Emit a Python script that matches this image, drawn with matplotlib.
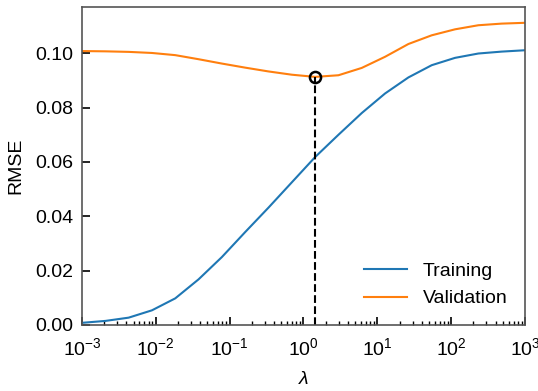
import numpy as np
import matplotlib.pyplot as plt

plt.rcParams['font.family'] = ['Liberation Sans', 'DejaVu Sans']
plt.rcParams['mathtext.fontset'] = 'custom'
plt.rcParams['mathtext.rm'] = 'Liberation Sans'
plt.rcParams['mathtext.it'] = 'Liberation Sans:italic'
plt.rcParams['mathtext.default'] = 'regular'

# regularisation strengths (20 log-spaced values)
lambdas = np.logspace(-3, 3, 20)

train_rmse = [0.0008, 0.0015, 0.0027, 0.0054, 0.0098, 0.0168, 0.0250, 0.0342,
              0.0432, 0.0525, 0.0618, 0.0700, 0.0780, 0.0852, 0.0911, 0.0956,
              0.0983, 0.0999, 0.1006, 0.1011]
val_rmse = [0.1008, 0.1007, 0.1005, 0.1001, 0.0993, 0.0978, 0.0962, 0.0947,
            0.0933, 0.0921, 0.0913, 0.0919, 0.0946, 0.0987, 0.1034, 0.1066,
            0.1088, 0.1103, 0.1109, 0.1112]

best = int(np.argmin(val_rmse))

fig = plt.figure(figsize=(5.38, 3.91), dpi=100)
ax = fig.add_axes([0.1524, 0.1688, 0.8234, 0.8132])

ax.plot(lambdas, train_rmse, color='#1f77b4', lw=1.5, label='Training')
ax.plot(lambdas, val_rmse, color='#ff7f0e', lw=1.5, label='Validation')
ax.plot([lambdas[best], lambdas[best]], [0, val_rmse[best]], 'k--', lw=1.5)
ax.plot(lambdas[best], val_rmse[best], 'o', mfc='none', mec='k', mew=1.8, ms=8)

ax.set_xscale('log')
ax.set_xlim(1e-3, 1e3)
ax.set_ylim(0, 0.117)
ax.set_yticks([0, 0.02, 0.04, 0.06, 0.08, 0.10])
ax.set_yticklabels(['0.00', '0.02', '0.04', '0.06', '0.08', '0.10'])

ax.tick_params(which='both', direction='in', labelsize=14, colors='black')
ax.tick_params(which='major', length=6, width=1.2)
ax.tick_params(axis='y', which='major', pad=6)
ax.tick_params(axis='x', which='major', pad=9)
ax.tick_params(which='minor', length=3, width=1)
for s in ax.spines.values():
    s.set_color('#555555')
    s.set_linewidth(1.2)

ax.set_xlabel(r'$\mathit{\lambda}$', fontsize=14, labelpad=8)
ax.set_ylabel('RMSE', fontsize=14, labelpad=8)

ax.legend(loc='lower right', frameon=False, fontsize=14, handlelength=2.2)

fig.savefig('out.png', dpi=100)
